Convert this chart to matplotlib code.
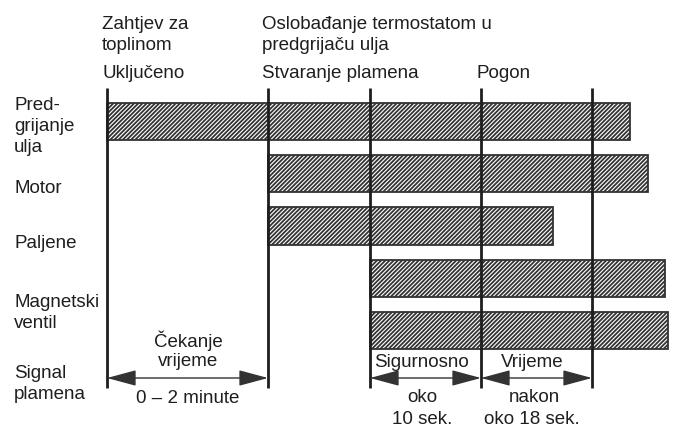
import matplotlib
matplotlib.use("Agg")
import matplotlib.pyplot as plt

plt.rcParams["font.family"] = ["Liberation Sans Narrow", "Liberation Sans", "DejaVu Sans"]
plt.rcParams["hatch.linewidth"] = 1.3
plt.rcParams["hatch.color"] = "#3a3a3a"

# time axis in arbitrary units (0 = "Uključeno")
event_x = [0, 161, 263, 374, 485]
rows = ["Pred-\ngrijanje\nulja", "Motor", "Paljene", "Magnetski\nventil", "Signal\nplamena"]
bar_start = [0, 161, 161, 263, 263]
bar_end = [523, 541, 446, 558, 561]

W, H = 676, 432
X0 = 107           # pixel position of t = 0
ROW0, ROWSTEP = 121.5, 52.25


def fx(px):
    return px / W


def fy(py):
    return 1 - py / H


fig = plt.figure(figsize=(W / 100, H / 100), dpi=100, facecolor="white")
ax = fig.add_axes([0, 0, 1, 1])
ax.set_xlim(-X0, W - X0)
ax.set_ylim((H - ROW0) / ROWSTEP, -ROW0 / ROWSTEP)
ax.axis("off")

# hatched bars
for i in range(len(rows)):
    ax.barh(i, bar_end[i] - bar_start[i], left=bar_start[i], height=0.71,
            color="white", edgecolor="#333333", linewidth=1.3,
            hatch="////////", zorder=2)

# event lines
y_top = (88 - ROW0) / ROWSTEP
y_bot = (388 - ROW0) / ROWSTEP
for x in event_x:
    ax.plot([x, x], [y_top, y_bot], color="#1e1e1e", lw=2.0, zorder=3,
            solid_capstyle="butt")

TXT = dict(fontsize=13.5, color="#1e1e1e", va="baseline")

# top annotations
top = [
    (102, 29, "Zahtjev za"), (102, 50, "toplinom"), (102, 78, "Uključeno"),
    (262, 29, "Oslobađanje termostatom u"), (262, 50, "predgrijaču ulja"),
    (262, 78, "Stvaranje plamena"), (476, 78, "Pogon"),
]
for x, y, s in top:
    fig.text(fx(x), fy(y), s, ha="left", **TXT)

# row labels
label_base = [110, 193, 248, 307, 378]
for lab, yb in zip(rows, label_base):
    for k, line in enumerate(lab.split("\n")):
        fig.text(fx(14), fy(yb + 21 * k), line, ha="left", **TXT)

# duration arrows
arrow_y = (378 - ROW0) / ROWSTEP
for a, b in zip(event_x[:-1], event_x[1:]):
    if a == 161:
        continue
    ax.annotate("", xy=(b, arrow_y), xytext=(a, arrow_y),
                arrowprops=dict(arrowstyle="<|-|>,head_length=1.3,head_width=0.35",
                                color="#333333", lw=1.0, shrinkA=0, shrinkB=0,
                                mutation_scale=14),
                zorder=4)

bottom = [
    (188, 347, "Čekanje"), (188, 366, "vrijeme"), (188, 403, "0 – 2 minute"),
    (421, 367, "Sigurnosno"), (422, 402, "oko"), (422, 424, "10 sek."),
    (532, 367, "Vrijeme"), (534, 402, "nakon"), (532, 424, "oko 18 sek."),
]
for x, y, s in bottom:
    fig.text(fx(x), fy(y), s, ha="center", **TXT)

fig.savefig("out.png", dpi=100, facecolor="white")
